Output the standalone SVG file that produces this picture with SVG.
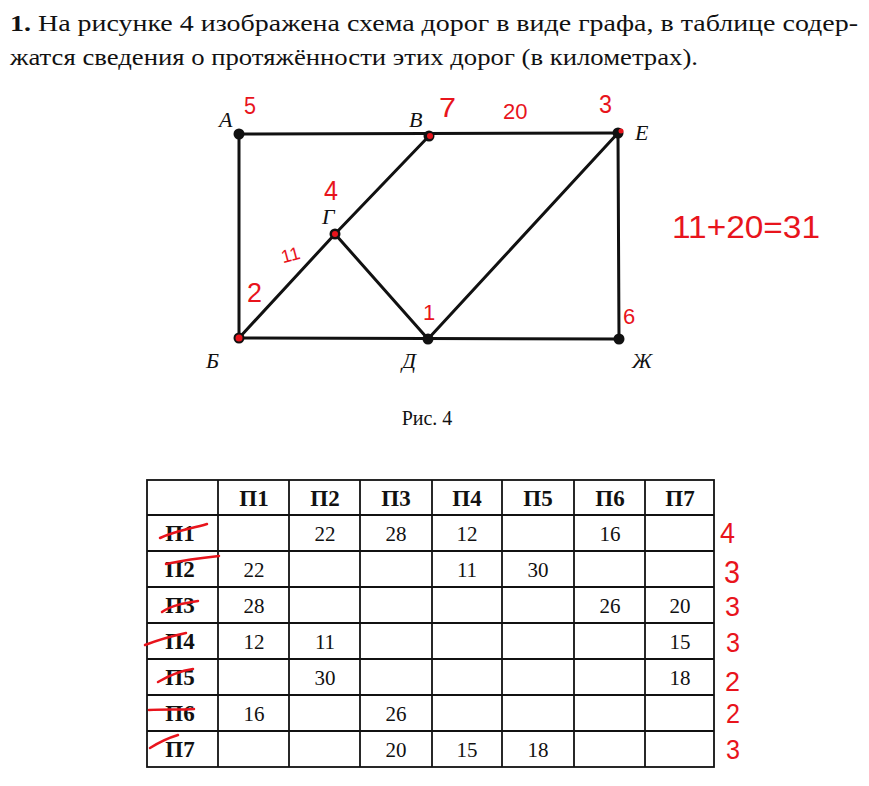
<svg xmlns="http://www.w3.org/2000/svg" width="869" height="786" viewBox="0 0 869 786">
<style>
.hdr{font-family:"Liberation Serif",serif;font-size:23px;fill:#111}
.lbl{font-family:"Liberation Serif",serif;font-style:italic;font-size:22px;fill:#111}
.edge{stroke:#111;stroke-width:3;stroke-linecap:round;fill:none}
.red{font-family:"Liberation Sans",sans-serif;fill:#e8141c}
.grid{stroke:#111;stroke-width:1.8;fill:none}
.th{font-family:"Liberation Serif",serif;font-weight:bold;font-size:23px;fill:#111;text-anchor:middle}
.td{font-family:"Liberation Serif",serif;font-size:21px;fill:#111;text-anchor:middle}
.strike{stroke:#e8141c;stroke-width:2.5;fill:none;stroke-linecap:round}
</style>
<rect width="869" height="786" fill="#fff"/>
<text class="hdr" x="10" y="31" textLength="848" lengthAdjust="spacingAndGlyphs"><tspan font-weight="bold">1.</tspan> На рисунке 4 изображена схема дорог в виде графа, в таблице содер-</text>
<text class="hdr" x="10" y="65" textLength="688" lengthAdjust="spacingAndGlyphs">жатся сведения о протяжённости этих дорог (в километрах).</text>

<g id="edges">
<line class="edge" x1="239" y1="134" x2="618" y2="133"/>
<line class="edge" x1="239" y1="134" x2="239" y2="338"/>
<line class="edge" x1="239" y1="338" x2="619" y2="339"/>
<line class="edge" x1="618" y1="133" x2="619" y2="339"/>
<line class="edge" x1="239" y1="338" x2="335" y2="234"/>
<line class="edge" x1="335" y1="234" x2="429" y2="136"/>
<line class="edge" x1="335" y1="234" x2="428" y2="339"/>
<line class="edge" x1="428" y1="339" x2="618" y2="133"/>
</g>
<g id="node-A"><circle cx="239" cy="134" r="5.5" fill="#111"/><text class="lbl" x="219" y="127">А</text></g>
<g id="node-V"><circle cx="429" cy="136" r="5.5" fill="#111"/><circle cx="430" cy="136" r="3" fill="#e8141c"/><text class="lbl" x="409" y="127">В</text></g>
<g id="node-E"><circle cx="618" cy="133" r="5.5" fill="#111"/><circle cx="621" cy="131" r="2.5" fill="#e8141c"/><text class="lbl" x="635" y="140">Е</text></g>
<g id="node-G"><circle cx="335" cy="234" r="5.5" fill="#111"/><circle cx="335" cy="234" r="3" fill="#e8141c"/><text class="lbl" x="322" y="224">Г</text></g>
<g id="node-B"><circle cx="239" cy="338" r="5.5" fill="#111"/><circle cx="239" cy="338" r="3.5" fill="#e8141c"/><text class="lbl" x="206" y="368">Б</text></g>
<g id="node-D"><circle cx="428" cy="339" r="5.5" fill="#111"/><text class="lbl" x="402" y="368">Д</text></g>
<g id="node-Zh"><circle cx="619" cy="339" r="5.5" fill="#111"/><text class="lbl" x="632" y="368">Ж</text></g>

<text x="427" y="425" font-family="Liberation Serif,serif" font-size="20" fill="#111" text-anchor="middle">Рис. 4</text>

<g id="red-notes" class="red">
<text x="244" y="114" font-size="24" textLength="12" lengthAdjust="spacingAndGlyphs">5</text>
<text x="439" y="117" font-size="28" textLength="17" lengthAdjust="spacingAndGlyphs">7</text>
<text x="503" y="119" font-size="22">20</text>
<text x="599" y="113" font-size="26" textLength="13" lengthAdjust="spacingAndGlyphs">3</text>
<text x="324" y="200" font-size="28" textLength="14" lengthAdjust="spacingAndGlyphs">4</text>
<text x="281" y="262" font-size="18" transform="rotate(-15 287 255)">11</text>
<text x="247" y="302" font-size="28" textLength="15" lengthAdjust="spacingAndGlyphs">2</text>
<text x="423" y="320" font-size="22">1</text>
<text x="623" y="324" font-size="22">6</text>
<text x="672" y="238" font-size="32" textLength="148" lengthAdjust="spacingAndGlyphs">11+20=31</text>
<text x="720" y="543" font-size="30" textLength="15" lengthAdjust="spacingAndGlyphs">4</text>
<text x="724" y="583" font-size="31" textLength="16" lengthAdjust="spacingAndGlyphs">3</text>
<text x="725" y="616" font-size="28" textLength="15" lengthAdjust="spacingAndGlyphs">3</text>
<text x="726" y="652" font-size="28" textLength="14" lengthAdjust="spacingAndGlyphs">3</text>
<text x="725" y="691" font-size="28" textLength="15" lengthAdjust="spacingAndGlyphs">2</text>
<text x="726" y="723" font-size="28" textLength="14" lengthAdjust="spacingAndGlyphs">2</text>
<text x="726" y="759" font-size="28" textLength="14" lengthAdjust="spacingAndGlyphs">3</text>
</g>

<g id="table">
<rect class="grid" x="147" y="480" width="567" height="287" stroke-width="2.2"/>
<g class="grid">
<line x1="218" y1="480" x2="218" y2="767"/>
<line x1="289" y1="480" x2="289" y2="767"/>
<line x1="360" y1="480" x2="360" y2="767"/>
<line x1="432" y1="480" x2="432" y2="767"/>
<line x1="502" y1="480" x2="502" y2="767"/>
<line x1="574" y1="480" x2="574" y2="767"/>
<line x1="645" y1="480" x2="645" y2="767"/>
<line x1="147" y1="515" x2="714" y2="515"/>
<line x1="147" y1="551" x2="714" y2="551"/>
<line x1="147" y1="587" x2="714" y2="587"/>
<line x1="147" y1="623" x2="714" y2="623"/>
<line x1="147" y1="659" x2="714" y2="659"/>
<line x1="147" y1="695" x2="714" y2="695"/>
<line x1="147" y1="731" x2="714" y2="731"/>
</g>
<g>
<text class="th" x="254" y="506">П1</text>
<text class="th" x="325" y="506">П2</text>
<text class="th" x="396" y="506">П3</text>
<text class="th" x="467" y="506">П4</text>
<text class="th" x="538" y="506">П5</text>
<text class="th" x="610" y="506">П6</text>
<text class="th" x="680" y="506">П7</text>
</g>
<g>
<text class="th" x="180" y="541">П1</text>
<text class="th" x="180" y="577">П2</text>
<text class="th" x="180" y="613">П3</text>
<text class="th" x="180" y="649">П4</text>
<text class="th" x="180" y="685">П5</text>
<text class="th" x="180" y="721">П6</text>
<text class="th" x="180" y="757">П7</text>
</g>
<g>
<text class="td" x="325" y="541">22</text><text class="td" x="396" y="541">28</text><text class="td" x="467" y="541">12</text><text class="td" x="610" y="541">16</text>
<text class="td" x="254" y="577">22</text><text class="td" x="467" y="577">11</text><text class="td" x="538" y="577">30</text>
<text class="td" x="254" y="613">28</text><text class="td" x="610" y="613">26</text><text class="td" x="680" y="613">20</text>
<text class="td" x="254" y="649">12</text><text class="td" x="325" y="649">11</text><text class="td" x="680" y="649">15</text>
<text class="td" x="325" y="685">30</text><text class="td" x="680" y="685">18</text>
<text class="td" x="254" y="721">16</text><text class="td" x="396" y="721">26</text>
<text class="td" x="396" y="757">20</text><text class="td" x="467" y="757">15</text><text class="td" x="538" y="757">18</text>
</g>
<g id="strikes">
<path class="strike" d="M160 538 C175 531 190 529 207 524"/>
<path class="strike" d="M166 564 C185 560 200 558 219 556"/>
<path class="strike" d="M162 612 C172 605 185 603 198 601"/>
<path class="strike" d="M145 645 C158 640 172 636 186 633"/>
<path class="strike" d="M158 682 C168 676 180 671 193 669"/>
<path class="strike" d="M149 710 C165 709 180 710 194 709"/>
<path class="strike" d="M150 748 C158 743 168 738 178 735"/>
</g>
</g>
</svg>
